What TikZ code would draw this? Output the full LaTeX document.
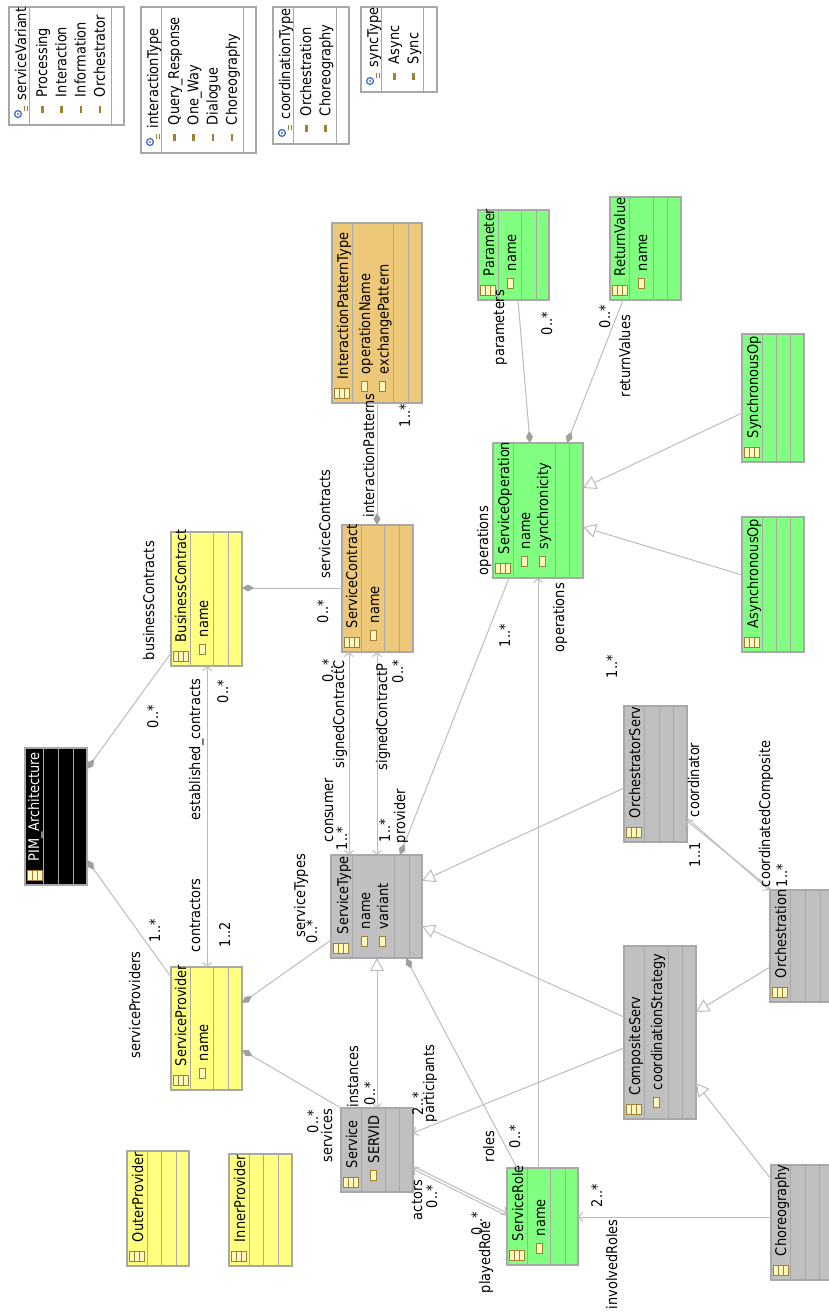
\documentclass[tikz,border=0pt]{standalone}
\usepackage{fontspec}
\setmainfont{DejaVu Sans}[FakeStretch=0.88]
\usetikzlibrary{arrows.meta,calc}

\definecolor{ln}{RGB}{188,188,188}
\definecolor{bd}{RGB}{168,168,168}
\definecolor{yel}{RGB}{255,255,128}
\definecolor{org}{RGB}{236,200,120}
\definecolor{grn}{RGB}{128,255,128}
\definecolor{gry}{RGB}{192,192,192}
\definecolor{dia}{RGB}{160,160,160}
\definecolor{icf}{RGB}{255,248,190}
\definecolor{icb}{RGB}{160,128,50}
\definecolor{enb}{RGB}{70,110,200}

\tikzset{
  box/.style={draw=bd, line width=1.2pt, inner sep=0pt, outer sep=0pt},
  divline/.style={draw=bd, line width=1pt},
  lbl/.style={rotate=90, inner sep=0pt, outer sep=0pt, anchor=base west,
              font=\fontsize{14.7}{17}\selectfont},
  conn/.style={draw=ln, line width=1pt},
  comp/.style={-{Diamond[length=12pt,width=7pt,fill=dia,color=dia]}},
  barb/.style={-{Straight Barb[length=4pt,width=9pt]}},
  barbs/.style={{Straight Barb[length=4pt,width=9pt]}-{Straight Barb[length=4pt,width=9pt]}},
  gen/.style={-{Triangle[length=13pt,width=14pt,fill=white]}},
}

% class box: id, x1, y1, x2, y2, three divider positions, fill colour
\newcommand\cls[9]{%
  \node[box, fill=#9, minimum width={(#4-#2)*1pt}, minimum height={(#5-#3)*1pt}]
    (#1) at ({(#2+#4)/2},{(#3+#5)/2}) {};
  \foreach \d in {#6,#7,#8}{\draw[divline] (#1.north -| \d,0) -- (#1.south -| \d,0);}
  \clsicon{#2}{#5}%
  \xdef\cid{#1}\xdef\cdx{#6}\xdef\cbot{#5}}

% table icon in the lower corner of a class header
\newcommand\clsicon[2]{%
  \draw[icb, fill=icf, line width=0.8pt] (#1+2,#2-15) rectangle (#1+17,#2-5);
  \draw[icb, line width=0.8pt] (#1+7.5,#2-15) -- (#1+7.5,#2-5) (#1+12.5,#2-15) -- (#1+12.5,#2-5);
  \draw[icb, line width=1.6pt] (#1+2.6,#2-15) -- (#1+2.6,#2-5);}

\newcommand\ctitle[2][black]{\node[lbl, text=#1] (\cid-name) at (\cdx-4,\cbot-24) {#2};}

% attribute: suffix, baseline offset from header divider, text
\newcommand\cattr[3]{%
  \node[lbl] (\cid-#1) at (\cdx+#2,\cbot-29) {#3};
  \draw[icb, fill=icf, line width=0.8pt] (\cdx+#2-9,\cbot-22) rectangle (\cdx+#2-3,\cbot-12);}

% enumeration box: id, x1, y1, x2, y2, d1, d2, name
\newcommand\enm[8]{%
  \node[box, fill=white, minimum width={(#4-#2)*1pt}, minimum height={(#5-#3)*1pt}]
    (#1) at ({(#2+#4)/2},{(#3+#5)/2}) {};
  \foreach \d in {#6,#7}{\draw[divline] (#1.north -| \d,0) -- (#1.south -| \d,0);}
  \draw[enb, line width=1.3pt, fill=white] (#2+9,#5-11) circle (3.4);
  \fill[enb] (#2+9,#5-11) circle (1.2);
  \draw[icb, line width=0.9pt] (#2+15,#5-19) -- (#2+15,#5-14) (#2+18,#5-19) -- (#2+18,#5-14);
  \node[lbl] (#1-name) at (#6-3,#5-25) {#8};
  \xdef\cid{#1}\xdef\cbot{#5}}

% enumeration literal: suffix, baseline x, text
\newcommand\lit[3]{%
  \node[lbl] (\cid-#1) at (#2,\cbot-28) {#3};
  \fill[icb] (#2-6,\cbot-19) rectangle (#2-3.5,\cbot-12);}

\begin{document}
\begin{tikzpicture}[x=1pt, y=-1pt]
\useasboundingbox (0,0) rectangle (829,1315);
\clip (0,0) rectangle (829,1315);

% ---------- enumerations ----------
\enm{sv}{9}{7}{124}{125}{29}{111}{serviceVariant}
\lit{l1}{47}{Processing}
\lit{l2}{66.3}{Interaction}
\lit{l3}{85.6}{Information}
\lit{l4}{104.9}{Orchestrator}

\enm{it}{141}{7}{256}{153}{161}{243}{interactionType}
\lit{l1}{179}{Query\_Response}
\lit{l2}{198.3}{One\_Way}
\lit{l3}{217.6}{Dialogue}
\lit{l4}{236.9}{Choreography}

\enm{ct}{273}{7}{349}{144}{293}{336}{coordinationType}
\lit{l1}{311}{Orchestration}
\lit{l2}{330.3}{Choreography}

\enm{sy}{361}{7}{437}{92}{381}{423}{syncType}
\lit{l1}{399}{Async}
\lit{l2}{418.3}{Sync}

% ---------- classes ----------
\cls{pim}{25}{748}{87}{885}{43}{58}{73}{black}
\ctitle[white]{PIM\_Architecture}

\cls{bc}{171}{532}{242}{666}{190}{213}{228}{yel}
\ctitle{BusinessContract}
\cattr{a1}{18}{name}

\cls{sc}{342}{525}{413}{652}{361}{384}{399}{org}
\ctitle{ServiceContract}
\cattr{a1}{18}{name}

\cls{ipt}{332}{223}{422}{403}{352}{393}{408}{org}
\ctitle{InteractionPatternType}
\cattr{a1}{18}{operationName}
\cattr{a2}{36.5}{exchangePattern}

\cls{par}{478}{210}{549}{300}{498}{521}{536}{grn}
\ctitle{Parameter}
\cattr{a1}{18}{name}

\cls{rv}{610}{197}{681}{300}{629}{653}{667}{grn}
\ctitle{ReturnValue}
\cattr{a1}{18}{name}

\cls{so}{493}{443}{583}{578}{513}{555}{569}{grn}
\ctitle{ServiceOperation}
\cattr{a1}{17}{name}
\cattr{a2}{35}{synchronicity}

\cls{syn}{742}{334}{804}{462}{762}{776}{790}{grn}
\ctitle{SynchronousOp}

\cls{asy}{742}{517}{804}{652}{762}{776}{790}{grn}
\ctitle{AsynchronousOp}

\cls{os}{624}{706}{687}{842}{644}{659}{673}{gry}
\ctitle{OrchestratorServ}

\cls{st}{331}{855}{422}{958}{352}{394}{409}{gry}
\ctitle{ServiceType}
\cattr{a1}{18}{name}
\cattr{a2}{36}{variant}

\cls{sp}{171}{967}{242}{1090}{190}{213}{228}{yel}
\ctitle{ServiceProvider}
\cattr{a1}{18}{name}

\cls{op}{127}{1151}{189}{1266}{147}{161}{176}{yel}
\ctitle{OuterProvider}

\cls{ip}{229}{1154}{292}{1266}{249}{263}{278}{yel}
\ctitle{InnerProvider}

\cls{svc}{341}{1108}{413}{1192}{361}{385}{399}{gry}
\ctitle{Service}
\cattr{a1}{18}{SERVID}

\cls{sr}{507}{1168}{578}{1265}{527}{550}{565}{grn}
\ctitle{ServiceRole}
\cattr{a1}{18}{name}

\cls{cs}{624}{946}{696}{1119}{644}{668}{682}{gry}
\ctitle{CompositeServ}
\cattr{a1}{18}{coordinationStrategy}

\cls{orch}{770}{890}{834}{1002}{790}{805}{820}{gry}
\ctitle{Orchestration}

\cls{chor}{771}{1165}{834}{1280}{790}{805}{819}{gry}
\ctitle{Choreography}

% ---------- associations and generalisations ----------
\draw[conn, comp] (bc.west |- 0,653) -- (pim.east |- 0,769);
\draw[conn, comp] (sp.west |- 0,977) -- (pim.east |- 0,860);
\draw[conn, barbs] (bc.south -| 207,0) -- (sp.north -| 207,0);
\draw[conn, comp] (sc.west |- 0,588) -- (bc.east |- 0,588);
\draw[conn, comp] (ipt.south -| 377,0) -- (sc.north -| 377,0);
\draw[conn, barbs] (sc.south -| 349,0) -- (st.north -| 349,0);
\draw[conn, barbs] (sc.south -| 377,0) -- (st.north -| 377,0);
\draw[conn, comp] (so.south -| 509,0) -- (st.north -| 400,0);
\draw[conn, barb] (sr.north -| 538,0) -- (so.south -| 538,0);
\draw[conn, comp] (sr.north -| 517,0) -- (st.south -| 406,0);
\draw[conn, {Straight Barb[length=4pt,width=9pt]}-{Triangle[length=13pt,width=14pt,fill=white]}]
  (svc.north -| 377,0) -- (st.south -| 377,0);
\draw[conn, comp] (svc.north west) -- (sp.east |- 0,1050);
\draw[conn, comp] (st.west |- 0,940) -- (sp.east |- 0,1003);
\draw[conn, barb] (svc.east |- 0,1166) -- (sr.west |- 0,1213);
\draw[conn, barb] (sr.west |- 0,1216) -- (svc.east |- 0,1169);
\draw[conn, barb] (cs.west |- 0,1048) -- (svc.east |- 0,1133);
\draw[conn, gen] (cs.west |- 0,1017) -- (st.east |- 0,926);
\draw[conn, gen] (os.west |- 0,788) -- (st.east |- 0,881);
\draw[conn, gen] (orch.west |- 0,967) -- (cs.east |- 0,1012);
\draw[conn, gen] (chor.west |- 0,1179) -- (cs.east |- 0,1083);
\draw[conn, barb] (chor.west |- 0,1217) -- (sr.east |- 0,1217);
\draw[conn, barb] (os.east |- 0,818) -- (orch.north -| 769,0);
\draw[conn, barb] (orch.north -| 772,0) -- (os.east |- 0,821);
\draw[conn, gen] (syn.west |- 0,413) -- (so.east |- 0,488);
\draw[conn, gen] (asy.west |- 0,575) -- (so.east |- 0,527);
\draw[conn, comp] (par.south -| 518,0) -- (so.north -| 530,0);
\draw[conn, comp] (rv.south -| 623,0) -- (so.north -| 567,0);

% ---------- role names and multiplicities ----------
\node[lbl] (r1)  at (154,660)  {businessContracts};
\node[lbl] (m1)  at (158,728)  {0..*};
\node[lbl] (r2)  at (200,820)  {established\_contracts};
\node[lbl] (m2)  at (228,703)  {0..*};
\node[lbl] (r3)  at (330,578)  {serviceContracts};
\node[lbl] (m3)  at (328,623)  {0..*};
\node[lbl] (r4)  at (374,517)  {interactionPatterns};
\node[lbl] (m4)  at (410,427)  {1..*};
\node[lbl] (m5)  at (333,682)  {0..*};
\node[lbl] (r5)  at (344,768)  {signedContractC};
\node[lbl] (r6)  at (333,842)  {consumer};
\node[lbl] (m6)  at (347,850)  {1..*};
\node[lbl] (r7)  at (387,770)  {signedContractP};
\node[lbl] (m7)  at (403,683)  {0..*};
\node[lbl] (m8)  at (390,842)  {1..*};
\node[lbl] (r8)  at (405,843)  {provider};
\node[lbl] (r9)  at (305,937)  {serviceTypes};
\node[lbl] (m9)  at (317,943)  {0..*};
\node[lbl] (r10) at (140,1058) {serviceProviders};
\node[lbl] (m10) at (160,942)  {1..*};
\node[lbl] (r11) at (200,952)  {contractors};
\node[lbl] (m11) at (230,947)  {1..2};
\node[lbl] (r12) at (332,1162) {services};
\node[lbl] (m12) at (318,1133) {0..*};
\node[lbl] (r13) at (358,1107) {instances};
\node[lbl] (m13) at (375,1105) {0..*};
\node[lbl] (m14) at (423,1115) {2..*};
\node[lbl] (r14) at (434,1122) {participants};
\node[lbl] (r15) at (422,1220) {actors};
\node[lbl] (m15) at (437,1208) {0..*};
\node[lbl] (m16) at (482,1235) {0..*};
\node[lbl] (r16) at (490,1293) {playedRole};
\node[lbl] (r17) at (494,1162) {roles};
\node[lbl] (m17) at (520,1148) {0..*};
\node[lbl] (m18) at (602,1207) {2..*};
\node[lbl] (r18) at (617,1309) {involvedRoles};
\node[lbl] (r19) at (488,575)  {operations};
\node[lbl] (m19) at (510,647)  {1..*};
\node[lbl] (r20) at (564,652)  {operations};
\node[lbl] (m20) at (617,678)  {1..*};
\node[lbl] (r21) at (699,817)  {coordinator};
\node[lbl] (m21) at (700,867)  {1..1};
\node[lbl] (r22) at (770,887)  {coordinatedComposite};
\node[lbl] (m22) at (787,887)  {1..*};
\node[lbl] (r23) at (504,365)  {parameters};
\node[lbl] (m23) at (552,335)  {0..*};
\node[lbl] (m24) at (610,328)  {0..*};
\node[lbl] (r24) at (630,397)  {returnValues};
\end{tikzpicture}
\end{document}
